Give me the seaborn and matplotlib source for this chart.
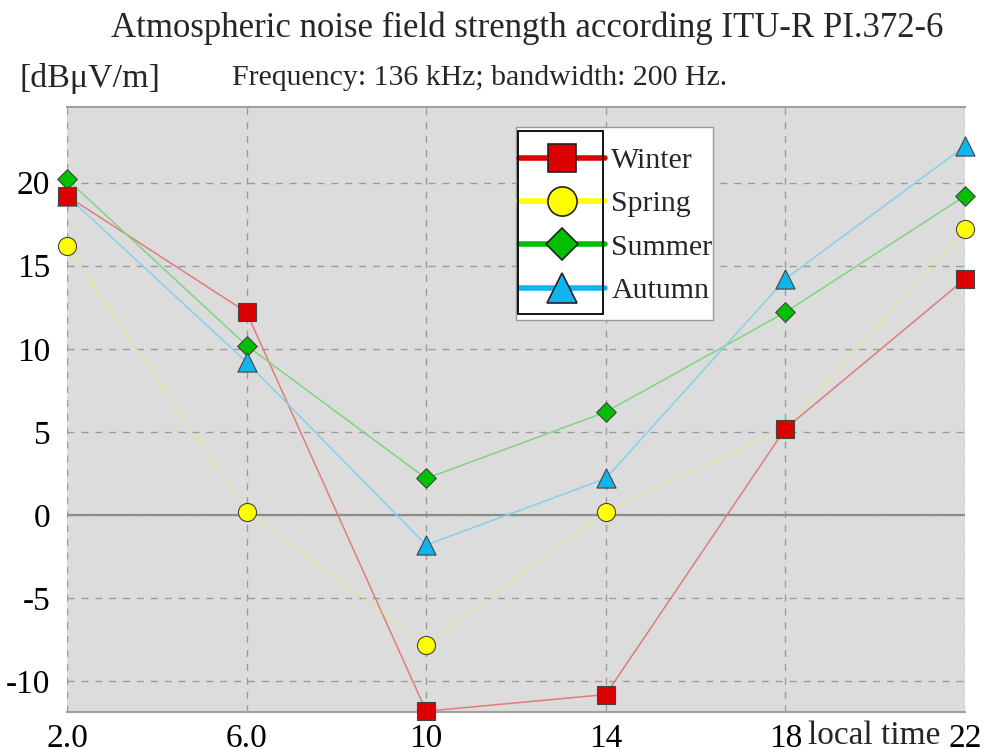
import pandas as pd
import matplotlib
matplotlib.use("Agg")
import matplotlib.pyplot as plt
import seaborn as sns
from matplotlib.lines import Line2D
from matplotlib.patches import Rectangle
from matplotlib.ticker import MultipleLocator

# values
local_time = [2, 6, 10, 14, 18, 22]
x_tick_labels = ["2.0", "6.0", "10", "14", "18", "22"]
winter = [19.2, 12.2, -11.8, -10.8, 5.2, 14.2]
spring = [16.2, 0.2, -7.8, 0.2, 5.2, 17.2]
summer = [20.2, 10.2, 2.2, 6.2, 12.2, 19.2]
autumn = [19.2, 9.2, -1.8, 2.2, 14.2, 22.2]
seasons = ["Winter", "Spring", "Summer", "Autumn"]
y_ticks = [-10, -5, 0, 5, 10, 15, 20]

df = pd.DataFrame({
    "time": local_time * 4,
    "value": winter + spring + summer + autumn,
    "season": [s for s in seasons for _ in local_time],
})

# style per season: line colour, line style, marker, marker colour, marker size
styles = {
    "Winter": dict(line="#e27b7b", ls="-", marker="s", face="#dd0000", s=150, leg_ms=20),
    "Spring": dict(line="#eeee55", ls=":", marker="o", face="#ffff00", s=170, leg_ms=21),
    "Summer": dict(line="#7fd47f", ls="-", marker="D", face="#00c000", s=100, leg_ms=16),
    "Autumn": dict(line="#86d0ec", ls="-", marker="^", face="#10b4ee", s=190, leg_ms=22),
}

sns.set_style("white")
plt.rcParams["font.family"] = ["Liberation Serif", "DejaVu Serif"]

fig = plt.figure(figsize=(9.9, 7.5), dpi=100)
ax = fig.add_axes([67 / 990, 38 / 750, 898 / 990, 605 / 750])
ax.set_facecolor("#dcdcdc")

# thin connecting lines first
for season in seasons:
    st = styles[season]
    sub = df[df["season"] == season]
    sns.lineplot(data=sub, x="time", y="value", ax=ax, color=st["line"],
                 linestyle=st["ls"], linewidth=1.1, zorder=2, legend=False)

# markers on top, winter last
for season in ["Spring", "Summer", "Autumn", "Winter"]:
    st = styles[season]
    sub = df[df["season"] == season]
    sns.scatterplot(data=sub, x="time", y="value", ax=ax, marker=st["marker"],
                    s=st["s"], color=st["face"], edgecolor="#444444",
                    linewidth=0.8, zorder=4, clip_on=False, legend=False)

ax.set_xlim(2, 22)
ax.set_ylim(-11.85, 24.55)
ax.set_xticks(local_time)
ax.set_xticklabels(x_tick_labels)
ax.set_yticks(y_ticks)
ax.set_yticklabels([str(v) for v in y_ticks])
ax.xaxis.set_minor_locator(MultipleLocator(2))
ax.yaxis.set_minor_locator(MultipleLocator(2.5))
ax.set_xlabel("")
ax.set_ylabel("")

ax.grid(True, which="major", color="#9a9a9a", linestyle=(0, (5, 5)), linewidth=1.0)
ax.axhline(0, color="#8c8c8c", linewidth=1.6, zorder=1.5)

for side in ["left", "right"]:
    ax.spines[side].set_visible(False)
for side in ["top", "bottom"]:
    ax.spines[side].set_visible(True)
    ax.spines[side].set_color("#a0a0a0")
    ax.spines[side].set_linewidth(1.5)

ax.tick_params(axis="both", which="major", direction="out", length=7, width=1,
               color="#999999", labelsize=24, labelcolor="black", pad=1)
ax.tick_params(axis="both", which="minor", direction="out", length=4, width=1,
               color="#999999")
ax.tick_params(axis="y", pad=5)

# legend: white outer box, frameless legend, black box round the handles
ax.add_patch(Rectangle((0.5, 0.648), 0.2194, 0.319, transform=ax.transAxes,
                       facecolor="white", edgecolor="#999999", linewidth=1.0,
                       zorder=5))
handles = []
for season in seasons:
    st = styles[season]
    handles.append(Line2D([0], [0], color=st["face"], linewidth=4, marker=st["marker"],
                          markersize=st["leg_ms"], markerfacecolor=st["face"],
                          markeredgecolor="#222222", markeredgewidth=1.2))
leg = ax.legend(handles, seasons, loc="upper left", bbox_to_anchor=(0.498, 0.941),
                borderaxespad=0, fontsize=21.5, frameon=False,
                handlelength=2.9, handletextpad=0.2, borderpad=0.15,
                labelspacing=0.55)
leg.set_zorder(6)
ax.add_patch(Rectangle((0.5022, 0.658), 0.0947, 0.302, transform=ax.transAxes,
                       fill=False, edgecolor="black", linewidth=1.3, zorder=7))

# titles and labels
fig.text(527 / 990, 1 - 28 / 750, "Atmospheric noise field strength according ITU-R PI.372-6",
         ha="center", va="center", fontsize=25)
fig.text(20 / 990, 1 - 78 / 750, "[dB\u03bcV/m]", ha="left", va="center", fontsize=24.5)
fig.text(232 / 990, 1 - 78 / 750, "Frequency: 136 kHz; bandwidth: 200 Hz.",
         ha="left", va="center", fontsize=21.5)
fig.text(808 / 990, 1 - 721 / 750, "local time", ha="left", va="top", fontsize=24)

fig.savefig("out.png", dpi=100)
